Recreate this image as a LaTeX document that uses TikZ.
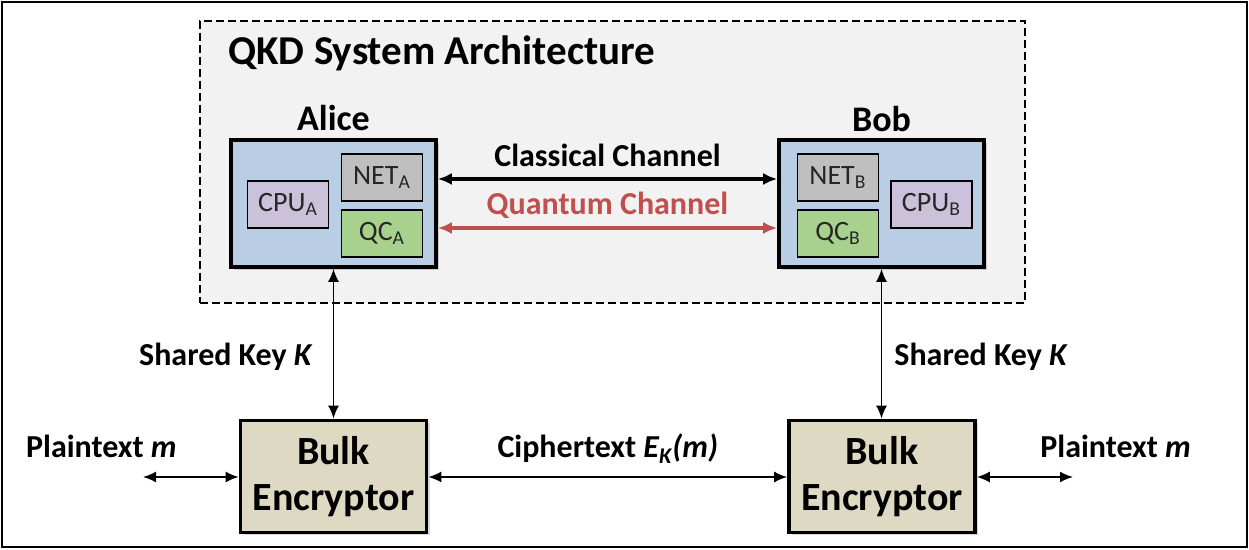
\documentclass[tikz,border=0pt]{standalone}
\usepackage{fontspec}
\setmainfont{Carlito}
\usepackage{xcolor}
\usepackage{tikz}
\usetikzlibrary{arrows.meta, positioning, shadows}

\definecolor{partyblue}{HTML}{B9CDE5}
\definecolor{netgray}{HTML}{BFBFBF}
\definecolor{qcgreen}{HTML}{A9D18E}
\definecolor{cpupurple}{HTML}{CCC1DA}
\definecolor{bulktan}{HTML}{DDD9C3}
\definecolor{systemgray}{HTML}{F2F2F2}
\definecolor{quantumred}{HTML}{C0504D}

\begin{document}
\begin{tikzpicture}[x=0.5pt, y=-0.5pt,
        % Define common styles for nodes
        party/.style={rectangle, draw, line width=1.8pt, fill=partyblue, minimum width=102.5pt, minimum height=63.5pt, inner sep=0pt,
                      drop shadow={opacity=0.3, shadow xshift=1.5pt, shadow yshift=-1.5pt}},
        party_name/.style={font=\fontsize{18}{21}\selectfont\bfseries, inner sep=0pt},
        unit/.style={rectangle, draw, line width=0.7pt, minimum width=40.5pt, minimum height=23.5pt, inner sep=0pt,
                     text=black!85, font=\fontsize{14}{16}\selectfont},
        encryptor/.style={rectangle, draw, line width=1.8pt, fill=bulktan, minimum width=93pt, minimum height=56pt, align=center,
                          font=\fontsize{20}{23}\selectfont\bfseries, drop shadow={opacity=0.3, shadow xshift=1.5pt, shadow yshift=-1.5pt}},
        label_text/.style={font=\fontsize{16}{19}\selectfont\bfseries, inner sep=0pt},
        line/.style={draw, line width=0.9pt, {Latex[length=6.5pt,width=5.5pt]}-{Latex[length=6.5pt,width=5.5pt]}},
        channel/.style={draw, line width=1.6pt, {Latex[length=7pt,width=6pt]}-{Latex[length=7pt,width=6pt]}},
    ]

    \useasboundingbox (0,0) rectangle (1249,550);
    \draw[line width=1.4pt] (2,2) rectangle (1247,547);

    % QKD system (dashed container)
    \node (qkd_system) [draw, line width=0.9pt, dash pattern=on 4pt off 2pt, fill=systemgray, minimum width=412.5pt, minimum height=141pt,
                        inner sep=0pt] at (612.5,162) {};
    \node (qkd_title) [anchor=base west, font=\fontsize{20.5}{24}\selectfont\bfseries, inner sep=0pt] at (228,65) {QKD System Architecture};

    % Alice and Bob
    \node (alice_box) [party] at (333.5,203.5) {};
    \node (bob_box) [party] at (881.5,203.5) {};
    \node (alice_name) [party_name, above=4pt of alice_box.north, anchor=base] {Alice};
    \node (bob_name) [party_name, above=3.5pt of bob_box.north, anchor=base] {Bob};

    % Units inside Alice and Bob
    \node (net_a) [unit, fill=netgray] at (382,177.5) {NET\textsubscript{A}};
    \node (qc_a) [unit, fill=qcgreen] at (382,233.5) {QC\textsubscript{A}};
    \node (cpu_a) [unit, fill=cpupurple] at (288,204.5) {CPU\textsubscript{A}};
    \node (net_b) [unit, fill=netgray] at (838,177.5) {NET\textsubscript{B}};
    \node (qc_b) [unit, fill=qcgreen] at (838,233.5) {QC\textsubscript{B}};
    \node (cpu_b) [unit, fill=cpupurple] at (931.5,204.5) {CPU\textsubscript{B}};

    % Bulk encryptors
    \node (bulk_a) [encryptor] at (333.5,476.5) {Bulk\\Encryptor};
    \node (bulk_b) [encryptor] at (882,476.5) {Bulk\\Encryptor};
    \coordinate (plain_a) at (143,477);
    \coordinate (plain_b) at (1073,477);

    % Draw connections/arrows
    \draw[channel] ([yshift=12.25pt]alice_box.east) -- ([yshift=12.25pt]bob_box.west)
        node[label_text, midway, anchor=base, yshift=6pt] (classical_label) {Classical Channel};
    \draw[channel, quantumred] ([yshift=-12.25pt]alice_box.east) -- ([yshift=-12.25pt]bob_box.west)
        node[label_text, midway, anchor=base, yshift=6.5pt, text=quantumred] (quantum_label) {Quantum Channel};

    \draw[line] (alice_box.south) -- (bulk_a.north)
        node[label_text, midway, anchor=base east, xshift=-10pt, yshift=-11pt] (key_a) {Shared Key \textit{K}};
    \draw[line] (bob_box.south) -- (bob_box.south |- bulk_b.north)
        node[label_text, midway, anchor=base west, xshift=6pt, yshift=-11pt] (key_b) {Shared Key \textit{K}};

    \draw[line] (plain_a) -- (bulk_a.west |- plain_a);
    \draw[line] (bulk_b.east |- plain_b) -- (plain_b);
    \draw[line] (bulk_a.east |- plain_a) -- (bulk_b.west |- plain_a)
        node[label_text, midway, anchor=base, yshift=9.5pt] (cipher_label) {Ciphertext \textit{E\textsubscript{K}(m)}};

    \node (plain_a_label) [label_text, anchor=base east] at (177,458) {Plaintext \textit{m}};
    \node (plain_b_label) [label_text, anchor=base west] at (1040,458) {Plaintext \textit{m}};

\end{tikzpicture}
\end{document}
